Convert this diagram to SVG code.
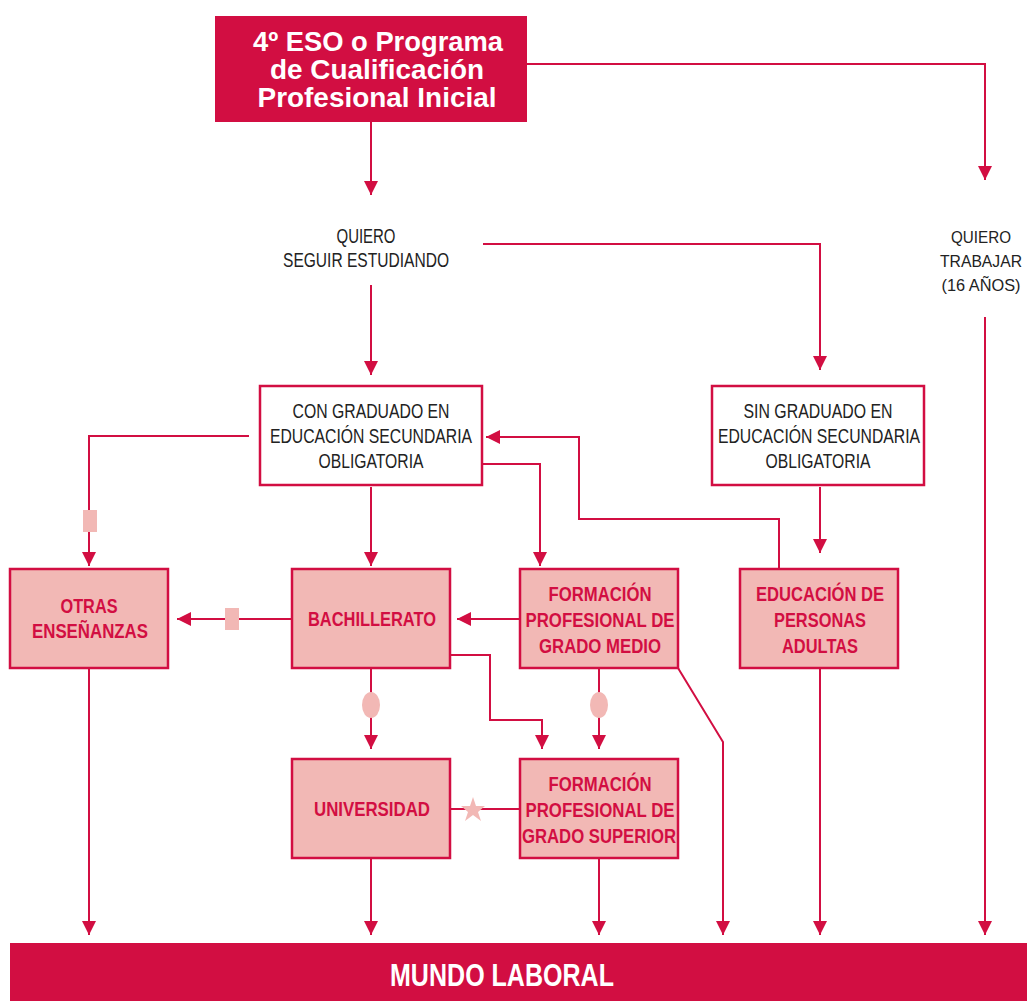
<svg xmlns="http://www.w3.org/2000/svg" width="1027" height="1001" viewBox="0 0 1027 1001">
<defs>
<marker id="ah" markerWidth="14" markerHeight="14" refX="14" refY="7" orient="auto" markerUnits="userSpaceOnUse">
<path d="M0,0 L14,7 L0,14 Z" fill="#D20E42"/>
</marker>
<style>
.c{fill:none;stroke:#D20E42;stroke-width:2}
.a{marker-end:url(#ah)}
.wb{fill:#fff;stroke:#D20E42;stroke-width:2.5}
.pb{fill:#F2B8B5;stroke:#D20E42;stroke-width:2.5}
.t{font-family:"Liberation Sans Narrow","Liberation Sans",Arial,sans-serif;font-size:20px;fill:#222;text-anchor:middle}
.tr{font-size:17px}
.p{font-family:"Liberation Sans Narrow","Liberation Sans",Arial,sans-serif;font-size:20px;font-weight:bold;fill:#D20E42;text-anchor:middle}
.h{font-family:"Liberation Sans Narrow","Liberation Sans",Arial,sans-serif;font-size:28px;font-weight:bold;fill:#fff;text-anchor:middle}
.big{font-size:32px}
.s{fill:#F2B8B5}
</style>
</defs>
<rect width="1027" height="1001" fill="#fff"/>
<g id="connectors">
<path class="c a" d="M371,122 V195"/>
<path class="c a" d="M527,64 H985 V180"/>
<path class="c a" d="M483,244 H820 V370"/>
<path class="c a" d="M371,285 V375"/>
<path class="c a" d="M985,317 V935"/>
<path class="c a" d="M249,436 H89 V566"/>
<path class="c a" d="M371,487 V566"/>
<path class="c a" d="M482,464 H540 V566"/>
<path class="c a" d="M820,487 V553"/>
<path class="c a" d="M779,570 V519 H579 V437 H486"/>
<path class="c a" d="M292,619 H177"/>
<path class="c a" d="M520,619 H457"/>
<path class="c a" d="M450,655 H490 V720 H542 V749"/>
<path class="c a" d="M371,668 V749"/>
<path class="c a" d="M599,668 V749"/>
<path class="c a" d="M678,668 L723,742 V935"/>
<path class="c a" d="M820,668 V935"/>
<path class="c a" d="M89,668 V935"/>
<path class="c" d="M450,809 H520"/>
<path class="c a" d="M371,858 V935"/>
<path class="c a" d="M599,858 V935"/>
<rect class="s" x="83" y="510" width="14" height="22"/>
<rect class="s" x="225" y="608" width="14" height="22"/>
<ellipse class="s" cx="371" cy="705" rx="9" ry="13"/>
<ellipse class="s" cx="599" cy="705" rx="9" ry="13"/>
<polygon class="s" points="473,797 476,806 485,806 478,812 481,821 473,815 465,821 468,812 461,806 470,806"/>
</g>
<g id="top">
<rect x="215" y="16" width="312" height="106" fill="#D20E42"/>
<text class="h" x="378" y="51" textLength="250" lengthAdjust="spacingAndGlyphs">4º ESO o Programa</text>
<text class="h" x="377" y="79" textLength="214" lengthAdjust="spacingAndGlyphs">de Cualificación</text>
<text class="h" x="377" y="107" textLength="239" lengthAdjust="spacingAndGlyphs">Profesional Inicial</text>
</g>
<g id="seguir">
<text class="t" x="366" y="243" textLength="59" lengthAdjust="spacingAndGlyphs">QUIERO</text>
<text class="t" x="366" y="267" textLength="166" lengthAdjust="spacingAndGlyphs">SEGUIR ESTUDIANDO</text>
</g>
<g id="trabajar">
<text class="t tr" x="981" y="243" textLength="60" lengthAdjust="spacingAndGlyphs">QUIERO</text>
<text class="t tr" x="981" y="267" textLength="82" lengthAdjust="spacingAndGlyphs">TRABAJAR</text>
<text class="t tr" x="981" y="291" textLength="79" lengthAdjust="spacingAndGlyphs">(16 AÑOS)</text>
</g>
<g id="con">
<rect class="wb" x="260" y="386" width="222" height="99"/>
<text class="t" x="371" y="418" textLength="157" lengthAdjust="spacingAndGlyphs">CON GRADUADO EN</text>
<text class="t" x="371" y="443" textLength="202" lengthAdjust="spacingAndGlyphs">EDUCACIÓN SECUNDARIA</text>
<text class="t" x="371" y="468" textLength="105" lengthAdjust="spacingAndGlyphs">OBLIGATORIA</text>
</g>
<g id="sin">
<rect class="wb" x="712" y="386" width="212" height="99"/>
<text class="t" x="818" y="418" textLength="149" lengthAdjust="spacingAndGlyphs">SIN GRADUADO EN</text>
<text class="t" x="819" y="443" textLength="202" lengthAdjust="spacingAndGlyphs">EDUCACIÓN SECUNDARIA</text>
<text class="t" x="818" y="468" textLength="105" lengthAdjust="spacingAndGlyphs">OBLIGATORIA</text>
</g>
<g id="otras">
<rect class="pb" x="10" y="569" width="158" height="99"/>
<text class="p" x="89" y="613" textLength="57" lengthAdjust="spacingAndGlyphs">OTRAS</text>
<text class="p" x="90" y="638" textLength="116" lengthAdjust="spacingAndGlyphs">ENSEÑANZAS</text>
</g>
<g id="bach">
<rect class="pb" x="292" y="569" width="158" height="99"/>
<text class="p" x="372" y="626" textLength="128" lengthAdjust="spacingAndGlyphs">BACHILLERATO</text>
</g>
<g id="fpm">
<rect class="pb" x="520" y="569" width="158" height="99"/>
<text class="p" x="600" y="601" textLength="103" lengthAdjust="spacingAndGlyphs">FORMACIÓN</text>
<text class="p" x="600" y="627" textLength="149" lengthAdjust="spacingAndGlyphs">PROFESIONAL DE</text>
<text class="p" x="600" y="653" textLength="122" lengthAdjust="spacingAndGlyphs">GRADO MEDIO</text>
</g>
<g id="epa">
<rect class="pb" x="740" y="569" width="158" height="99"/>
<text class="p" x="820" y="601" textLength="128" lengthAdjust="spacingAndGlyphs">EDUCACIÓN DE</text>
<text class="p" x="820" y="627" textLength="92" lengthAdjust="spacingAndGlyphs">PERSONAS</text>
<text class="p" x="820" y="653" textLength="76" lengthAdjust="spacingAndGlyphs">ADULTAS</text>
</g>
<g id="univ">
<rect class="pb" x="292" y="759" width="158" height="99"/>
<text class="p" x="372" y="816" textLength="116" lengthAdjust="spacingAndGlyphs">UNIVERSIDAD</text>
</g>
<g id="fps">
<rect class="pb" x="520" y="759" width="158" height="99"/>
<text class="p" x="600" y="791" textLength="103" lengthAdjust="spacingAndGlyphs">FORMACIÓN</text>
<text class="p" x="600" y="817" textLength="149" lengthAdjust="spacingAndGlyphs">PROFESIONAL DE</text>
<text class="p" x="599" y="843" textLength="154" lengthAdjust="spacingAndGlyphs">GRADO SUPERIOR</text>
</g>
<g id="mundo">
<rect x="10" y="943" width="1017" height="58" fill="#D20E42"/>
<text class="h big" x="502" y="986" textLength="224" lengthAdjust="spacingAndGlyphs">MUNDO LABORAL</text>
</g>
</svg>
